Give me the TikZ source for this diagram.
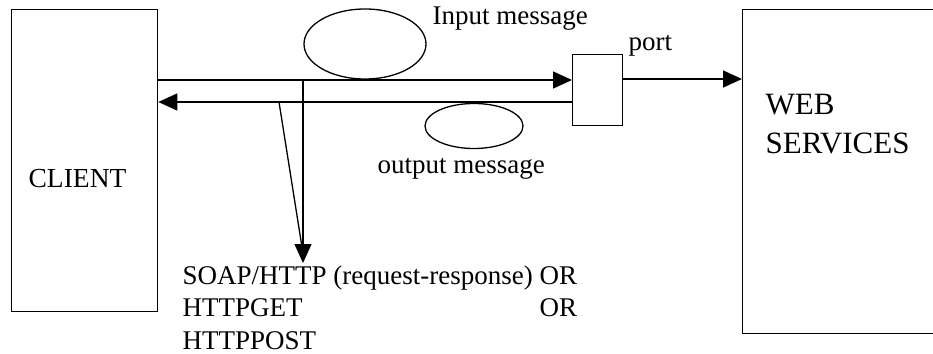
\documentclass[tikz,border=0pt]{standalone}
\usepackage{fontspec}
\setmainfont{Liberation Serif}
\usetikzlibrary{arrows.meta,shapes.geometric}
\begin{document}
\begin{tikzpicture}[x=1pt,y=-1pt,line width=1.3pt,
  box/.style={draw,rectangle,inner sep=0pt,anchor=north west},
  msg/.style={draw,ellipse,inner sep=0pt},
  lbl/.style={anchor=base west,inner sep=0pt,font=\fontsize{27}{32.5}\selectfont},
  tip/.style={-{Triangle[length=19pt,width=17pt]}}]
\useasboundingbox (0,0) rectangle (933,353);

% boxes
\node[box,minimum width=146pt,minimum height=302pt] (client) at (11,9) {};
\node[box,minimum width=200pt,minimum height=324pt] (web) at (742,9) {};
\node[box,minimum width=50pt,minimum height=71pt] (port) at (572,54) {};

% messages
\node[msg,minimum width=122pt,minimum height=70pt] (inmsg) at (365,44) {};
\node[msg,minimum width=98pt,minimum height=45pt] (outmsg) at (474,126) {};

% labels
\node[lbl,font=\fontsize{27.5}{32.5}\selectfont] (clientlbl) at (28,187) {CLIENT};
\node[lbl,align=left,font=\fontsize{31}{39}\selectfont] (weblbl) at (765,153) {WEB\\SERVICES};
\node[lbl] (portlbl) at (628,51) {port};
\node[lbl] (inlbl) at (432,25) {Input message};
\node[lbl] (outlbl) at (377,173) {output message};
\node[lbl] (protolbl) at (182,284)
  {\begin{tabular}[t]{@{}l@{\ }r@{}}
   SOAP/HTTP (request-response) & OR\\
   HTTPGET & OR\\
   HTTPPOST &
   \end{tabular}};

% message flow
\draw[tip] (client.east |- 0,80) -- (port.west |- 0,80);
\draw[tip] (port.west |- 0,102) -- (client.east |- 0,102);
\draw[tip] (port.east |- 0,79) -- (web.west |- 0,79);

% protocol pointer
\coordinate (split) at (303,80);
\coordinate (branch) at (279,102);
\coordinate (proto) at (303,263);
\coordinate (protobase) at (301.5,244);
\draw[tip] (split) -- (proto);
\draw (branch) -- (protobase);
\end{tikzpicture}
\end{document}
